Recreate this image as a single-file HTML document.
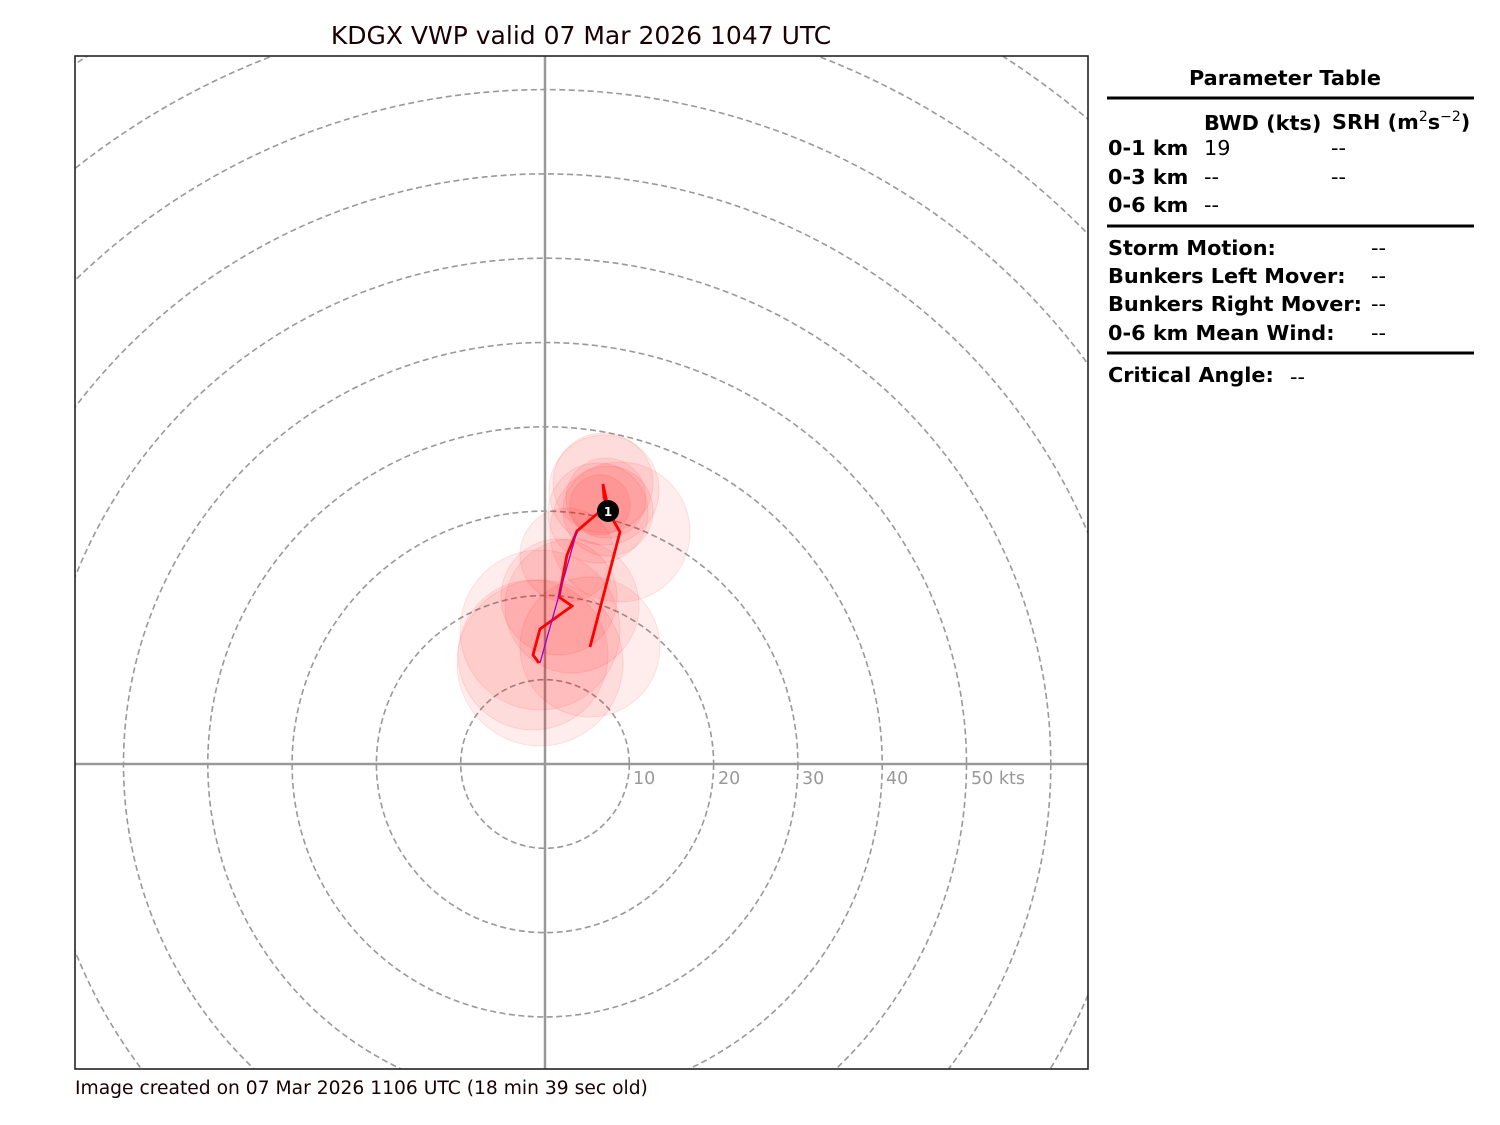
<!DOCTYPE html>
<html><head><meta charset="utf-8"><style>
html,body{margin:0;padding:0;background:#fff;overflow:hidden;width:1500px;height:1125px;}
svg{display:block;position:absolute;left:0;top:0;}
text{font-family:"DejaVu Sans","Liberation Sans",sans-serif;}
</style></head><body>
<svg width="1500" height="1125" xmlns="http://www.w3.org/2000/svg">
<rect width="1500" height="1125" fill="#fff"/>
<text x="581" y="44" font-size="25" text-anchor="middle" fill="#1a0000">KDGX VWP valid 07 Mar 2026 1047 UTC</text>
<defs><clipPath id="c"><rect x="75" y="56" width="1013" height="1013"/></clipPath></defs>
<g clip-path="url(#c)">
<g fill="none" stroke="#999" stroke-width="1.6" stroke-dasharray="6,3.5">
<circle cx="545" cy="764" r="84.3"/><circle cx="545" cy="764" r="168.6"/><circle cx="545" cy="764" r="252.9"/>
<circle cx="545" cy="764" r="337.2"/><circle cx="545" cy="764" r="421.5"/><circle cx="545" cy="764" r="505.8"/>
<circle cx="545" cy="764" r="590.1"/><circle cx="545" cy="764" r="674.4"/><circle cx="545" cy="764" r="758.7"/>
<circle cx="545" cy="764" r="843"/><circle cx="545" cy="764" r="927.3"/>
</g>
<line x1="75" y1="764" x2="1088" y2="764" stroke="#999" stroke-width="2.5"/>
<line x1="545" y1="56" x2="545" y2="1069" stroke="#999" stroke-width="2.5"/>
<g fill="rgba(255,0,0,0.07)" stroke="rgba(255,0,0,0.1)" stroke-width="1">
<circle cx="540" cy="663" r="83"/><circle cx="533" cy="655" r="75"/><circle cx="540" cy="630" r="80"/>
<circle cx="590" cy="647" r="70"/><circle cx="572" cy="606" r="67"/><circle cx="559" cy="597" r="58"/>
<circle cx="567" cy="555" r="47"/><circle cx="620" cy="532" r="70"/><circle cx="598" cy="513" r="50"/>
<circle cx="608" cy="511" r="45"/><circle cx="604" cy="490" r="55"/><circle cx="603" cy="483" r="50"/>
<circle cx="606" cy="498" r="40"/><circle cx="600" cy="505" r="30"/>
</g>
</g>
<g font-size="17.5" fill="#999">
<text x="633" y="784">10</text><text x="718" y="784">20</text><text x="802" y="784">30</text><text x="886" y="784">40</text><text x="971" y="784">50 kts</text>
</g>
<polyline points="539,663 533,655 540,629 572,606 559,597 567,555 577,531 598,513 608,511 606,498 603,484 604,497 608,511 620,532 590,647" fill="none" stroke="#f00" stroke-width="2.8" stroke-linejoin="miter"/>
<line x1="540" y1="663" x2="577" y2="531" stroke="#a000d0" stroke-width="1.3"/>
<circle cx="608" cy="511" r="11" fill="#000"/>
<text x="608" y="516" font-size="12" font-weight="bold" fill="#fff" text-anchor="middle">1</text>
<rect x="75" y="56" width="1013" height="1013" fill="none" stroke="#222" stroke-width="1.6"/>
<text x="75" y="1094" font-size="18.7" fill="#1a0000">Image created on 07 Mar 2026 1106 UTC (18 min 39 sec old)</text>
<g font-size="20.8" fill="#000">
<text x="1285" y="85" font-weight="bold" text-anchor="middle">Parameter Table</text>
<line x1="1107" y1="98" x2="1474" y2="98" stroke="#000" stroke-width="3"/>
<text x="1204" y="130" font-weight="bold">BWD (kts)</text>
<text x="1332" y="129" font-weight="bold">SRH (m<tspan font-size="14" font-weight="normal" dy="-8">2</tspan><tspan dy="8">s</tspan><tspan font-size="14" font-weight="normal" dy="-8">−2</tspan><tspan dy="8">)</tspan></text>
<text x="1108" y="155" font-weight="bold">0-1 km</text><text x="1204" y="155">19</text><text x="1331" y="155">--</text>
<text x="1108" y="184" font-weight="bold">0-3 km</text><text x="1204" y="184">--</text><text x="1331" y="184">--</text>
<text x="1108" y="212" font-weight="bold">0-6 km</text><text x="1204" y="212">--</text>
<line x1="1107" y1="226" x2="1474" y2="226" stroke="#000" stroke-width="3"/>
<text x="1108" y="255" font-weight="bold">Storm Motion:</text><text x="1371" y="255">--</text>
<text x="1108" y="283" font-weight="bold">Bunkers Left Mover:</text><text x="1371" y="283">--</text>
<text x="1108" y="311" font-weight="bold">Bunkers Right Mover:</text><text x="1371" y="311">--</text>
<text x="1108" y="340" font-weight="bold">0-6 km Mean Wind:</text><text x="1371" y="340">--</text>
<line x1="1107" y1="353" x2="1474" y2="353" stroke="#000" stroke-width="3"/>
<text x="1108" y="382" font-weight="bold">Critical Angle:</text><text x="1290" y="384">--</text>
</g>
</svg>
</body></html>
